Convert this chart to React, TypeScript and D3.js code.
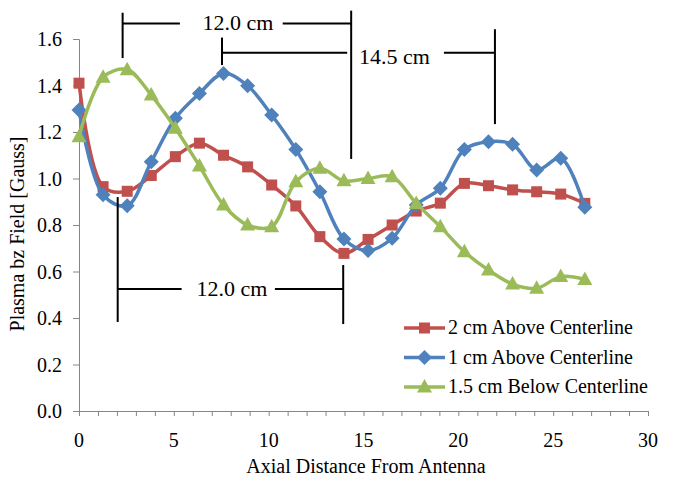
import React, { useRef, useEffect } from "react";
import * as d3 from "d3";

// axial positions (cm), one every half inch
const distances = [0, 1.27, 2.54, 3.81, 5.08, 6.35, 7.62, 8.89, 10.16, 11.43, 12.7, 13.97, 15.24, 16.51, 17.78, 19.05, 20.32, 21.59, 22.86, 24.13, 25.4, 26.67];

const above2cm = [1.41, 0.965, 0.945, 1.013, 1.094, 1.152, 1.1, 1.05, 0.972, 0.882, 0.75, 0.678, 0.738, 0.8, 0.86, 0.894, 0.979, 0.969, 0.951, 0.943, 0.933, 0.893];
const above1cm = [1.295, 0.93, 0.883, 1.072, 1.259, 1.366, 1.452, 1.399, 1.273, 1.125, 0.943, 0.74, 0.69, 0.743, 0.886, 0.958, 1.125, 1.158, 1.147, 1.037, 1.087, 0.876];
const below15cm = [1.18, 1.435, 1.468, 1.359, 1.216, 1.054, 0.886, 0.8, 0.793, 0.986, 1.044, 0.99, 1.0, 1.008, 0.893, 0.793, 0.685, 0.606, 0.546, 0.528, 0.578, 0.566];

const seriesNames = ["2 cm Above Centerline", "1 cm Above Centerline", "1.5 cm Below Centerline"];
const xTickLabels = [0, 5, 10, 15, 20, 25, 30];
const yTickLabels = [0, 0.2, 0.4, 0.6, 0.8, 1.0, 1.2, 1.4, 1.6];

// wavelength brackets in data units:
// [x0, x1, yBar, yLeftTop, yLeftBottom, yRightTop, yRightBottom, barLeftEnd, barRightStart, textX, label]
const brackets: [number, number, number, number, number, number, number, number, number, number, string][] = [
  [2.3, 14.35, 1.667, 1.713, 1.518, 1.722, 1.084, 5.32, 10.74, 8.38, "12.0 cm"],
  [7.54, 21.93, 1.541, 1.606, 1.488, 1.642, 1.234, 14.14, 19.24, 16.63, "14.5 cm"],
  [2.04, 13.93, 0.525, 0.92, 0.383, 0.628, 0.374, 5.41, 10.33, 8.07, "12.0 cm"],
];
const bracketTextDy = [7, 11, 7];

const colors = ["#C0504D", "#4F81BD", "#9BBB59"];
const FONT = "Liberation Serif";

const App = () => {
  const svgRef = useRef(null);

  useEffect(() => {
    document.body.style.margin = "0";
    const svg = d3.select(svgRef.current);
    svg.selectAll("*").remove();

    const width = 675;
    const height = 480;
    const margin = { top: 39, right: 27, bottom: 69, left: 79 };

    const x = d3.scaleLinear().domain([0, 30]).range([margin.left, width - margin.right]);
    const y = d3.scaleLinear().domain([0, 1.6]).range([height - margin.bottom, margin.top]);

    svg.attr("width", width).attr("height", height);

    const addText = (sel, size) =>
      sel.append("text").attr("font-family", FONT).attr("font-size", size).attr("fill", "#000");

    // axes
    const xAxis = svg
      .append("g")
      .attr("transform", `translate(0,${y(0)})`)
      .call(d3.axisBottom(x).tickValues(d3.range(0, 31, 1)).tickSize(5).tickFormat(() => ""));
    xAxis.select(".domain").attr("stroke", "#868686");
    xAxis.selectAll("line").attr("stroke", "#868686");

    xTickLabels.forEach((d) => {
      addText(svg, 20)
        .attr("x", x(d))
        .attr("y", y(0) + 36)
        .attr("text-anchor", "middle")
        .text(d);
    });

    const yAxis = svg
      .append("g")
      .attr("transform", `translate(${x(0)},0)`)
      .call(d3.axisLeft(y).tickValues(yTickLabels).tickSize(6).tickFormat(() => ""));
    yAxis.select(".domain").attr("stroke", "#868686");
    yAxis.selectAll("line").attr("stroke", "#868686");

    yTickLabels.forEach((d) => {
      addText(svg, 20)
        .attr("x", x(0) - 17)
        .attr("y", y(d) + 7)
        .attr("text-anchor", "end")
        .text(d.toFixed(1));
    });

    // axis titles
    addText(svg, 20)
      .attr("x", 366)
      .attr("y", 473)
      .attr("text-anchor", "middle")
      .text("Axial Distance From Antenna");

    addText(svg, 20)
      .attr("transform", `translate(24,${234}) rotate(-90)`)
      .attr("text-anchor", "middle")
      .text("Plasma bz Field [Gauss]");

    // markers
    const drawMarker = (g, i, cx, cy) => {
      if (i === 0) {
        g.append("rect")
          .attr("x", cx - 5.5)
          .attr("y", cy - 5.5)
          .attr("width", 11)
          .attr("height", 11)
          .attr("fill", colors[i]);
      } else if (i === 1) {
        g.append("path")
          .attr("d", `M${cx},${cy - 7.5}L${cx + 7.5},${cy}L${cx},${cy + 7.5}L${cx - 7.5},${cy}Z`)
          .attr("fill", colors[i]);
      } else {
        g.append("path")
          .attr("d", `M${cx},${cy - 8}L${cx + 7.5},${cy + 5.5}L${cx - 7.5},${cy + 5.5}Z`)
          .attr("fill", colors[i]);
      }
    };

    const line = d3
      .line<[number, number]>()
      .x((d) => x(d[0]))
      .y((d) => y(d[1]))
      .curve(d3.curveCatmullRom.alpha(0.5));

    [above2cm, above1cm, below15cm].forEach((vals, i) => {
      const pts: [number, number][] = distances.map((d, k) => [d, vals[k]]);
      const g = svg.append("g");
      g.append("path")
        .datum(pts)
        .attr("fill", "none")
        .attr("stroke", colors[i])
        .attr("stroke-width", 3.5)
        .attr("stroke-linejoin", "round")
        .attr("d", line);
      pts.forEach((p) => drawMarker(g, i, x(p[0]), y(p[1])));
    });

    // brackets
    brackets.forEach(([x0, x1, yb, ylt, ylb, yrt, yrb, le, rs, tx, label], k) => {
      const g = svg.append("g").attr("stroke", "#000").attr("stroke-width", 2);
      g.append("line").attr("x1", x(x0)).attr("x2", x(x0)).attr("y1", y(ylt)).attr("y2", y(ylb));
      g.append("line").attr("x1", x(x1)).attr("x2", x(x1)).attr("y1", y(yrt)).attr("y2", y(yrb));
      g.append("line").attr("x1", x(x0)).attr("x2", x(le)).attr("y1", y(yb)).attr("y2", y(yb));
      g.append("line").attr("x1", x(rs)).attr("x2", x(x1)).attr("y1", y(yb)).attr("y2", y(yb));
      addText(svg, 22)
        .attr("x", x(tx))
        .attr("y", y(yb) + bracketTextDy[k])
        .attr("text-anchor", "middle")
        .text(label);
    });

    // legend
    const legend = svg.append("g");
    seriesNames.forEach((name, i) => {
      const ly = 328 + i * 29.5;
      legend
        .append("line")
        .attr("x1", 404)
        .attr("x2", 445)
        .attr("y1", ly)
        .attr("y2", ly)
        .attr("stroke", colors[i])
        .attr("stroke-width", 3.5);
      drawMarker(legend, i, 424.5, ly);
      addText(legend, 20)
        .attr("x", 448)
        .attr("y", ly + 6)
        .text(name);
    });
  }, []);

  return <svg ref={svgRef} />;
};

export default App;
